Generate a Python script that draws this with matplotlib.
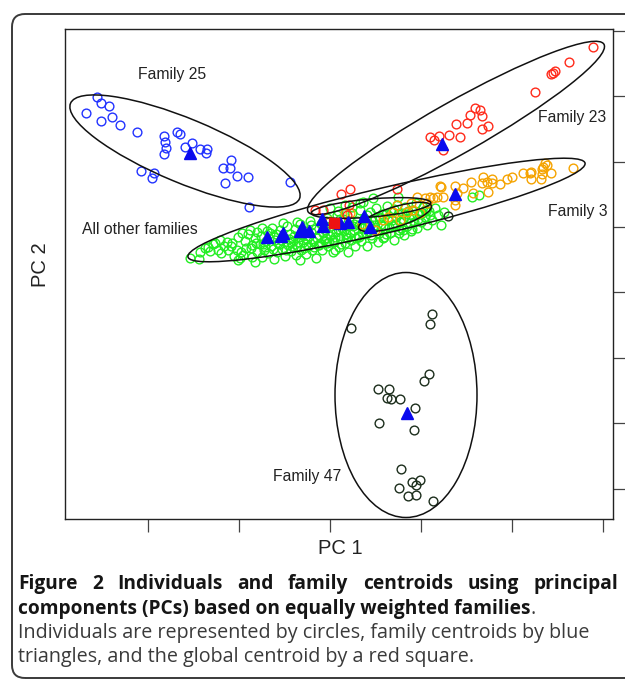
import matplotlib
matplotlib.use('Agg')
import matplotlib.pyplot as plt
from matplotlib.patches import Ellipse, FancyBboxPatch
from matplotlib.ticker import MultipleLocator
from matplotlib.transforms import IdentityTransform

#
# PC scores
#
fam25_pc1 = [-23.3, -22.9, -22.1, -24.4, -21.8, -22.9, -21.0, -19.3, -15.3, -15.0,
             -16.6, -16.5, -16.4, -16.6, -13.8, -14.5, -13.0, -12.3, -12.4, -9.9,
             -10.7, -10.0, -9.3, -8.2, -10.5, -18.9, -17.6, -17.8, -4.0, -8.1]
fam25_pc2 = [13.0, 12.4, 12.1, 11.4, 11.0, 10.6, 10.2, 9.5, 9.5, 9.3,
             9.1, 8.5, 7.9, 7.3, 8.4, 8.0, 7.8, 7.8, 7.4, 6.7,
             5.9, 5.9, 5.1, 5.0, 4.4, 5.6, 5.4, 4.9, 4.5, 2.0]

fam23_pc1 = [26.3, 23.9, 22.5, 22.3, 22.1, 20.5, 14.5, 15.0, 14.0, 15.2,
             13.7, 12.6, 15.8, 15.2, 11.9, 10.0, 10.9, 10.4, 13.0, 11.3,
             2.0, 1.1, 6.7, 1.9, -0.7, -1.5, 1.7]
fam23_pc2 = [18.0, 16.5, 15.6, 15.4, 15.3, 13.5, 11.9, 11.7, 11.2, 11.1,
             10.4, 10.3, 10.1, 9.8, 9.2, 9.0, 9.1, 8.7, 9.0, 7.7,
             3.8, 3.3, 3.8, 2.2, 1.7, 1.7, 1.2]

fam3_pc1 = [24.3, 21.5, 21.7, 21.3, 21.2, 22.1, 21.2, 20.0, 19.3, 20.1,
            18.2, 17.7, 17.0, 16.2, 16.2, 15.7, 15.3, 15.2, 15.8, 14.1,
            14.3, 12.5, 12.7, 13.3, 12.5, 12.5, 11.3, 11.1, 10.7, 10.3,
            10.0, 9.5, 8.7, 9.7, 8.1, 8.3, 9.0, 7.7, 6.7, 6.3,
            5.8, 5.3, 7.0, 2.0, 20.1, 21.1, 11.0, 0.0, 1.5, 3.2, 4.5]
fam3_pc2 = [5.9, 6.4, 6.2, 6.0, 5.8, 5.4, 5.3, 5.4, 5.4, 4.8,
            5.0, 4.8, 4.3, 4.8, 4.4, 4.5, 5.0, 4.4, 3.5, 4.5,
            3.4, 4.1, 3.4, 3.9, 2.7, 2.2, 3.0, 4.0, 3.0, 2.9,
            3.0, 2.9, 3.0, 2.4, 2.4, 1.7, 1.4, 1.5, 2.2, 1.5,
            1.0, 0.7, 0.7, 1.4, 5.5, 4.8, 4.1, 0.6, 1.4, 0.3, -0.3]

fam47_pc1 = [10.2, 10.0, 2.1, 9.9, 9.4, 4.8, 5.9, 5.7, 6.1, 7.0,
             8.5, 4.9, 8.4, 7.1, 8.2, 9.0, 8.6, 6.9, 7.8, 8.6, 10.3, 11.8]
fam47_pc2 = [-8.7, -9.7, -10.1, -14.7, -15.4, -16.2, -16.2, -17.1, -17.2, -17.2,
             -18.1, -19.6, -20.3, -24.2, -25.5, -25.3, -25.8, -26.1, -26.9, -26.8, -27.4, 1.1]

other_pc1 = [-13.1, -13.0, -12.5, -12.0, -11.7, -11.2, -11.0, -10.6, -10.3, -10.2,
             -9.8, -9.6, -9.3, -9.2, -9.2, -8.8, -8.7, -8.5, -8.4, -8.0,
             -7.8, -7.8, -7.5, -7.3, -7.3, -7.0, -6.8, -6.8, -6.6, -6.4,
             -6.2, -6.0, -5.9, -5.8, -5.6, -5.5, -5.3, -5.1, -5.0, -4.8,
             -4.6, -4.5, -4.3, -4.2, -4.0, -3.9, -3.7, -3.5, -3.4, -3.3,
             -3.1, -3.0, -2.9, -2.7, -2.5, -2.4, -2.2, -2.1, -2.0, -1.8,
             -1.7, -1.5, -1.4, -1.2, -1.1, -0.9, -0.8, -0.6, -0.5, -0.3,
             -0.2, 0.0, 0.1, 0.3, 0.4, 0.6, 0.7, 0.9, 1.0, 1.2,
             1.3, 1.5, 1.6, 1.8, 1.9, 2.1, 2.2, 2.4, 2.5, 2.7,
             2.8, 3.0, 3.1, 3.3, 3.4, 3.6, 3.7, 3.9, 4.0, 4.2,
             4.3, 4.5, 4.6, 4.8, 4.9, 5.1, 5.2, 5.4, 5.5, 5.7,
             5.8, 6.0, 6.1, 6.3, 6.4, 6.6, 6.7, 6.9, 7.0, 7.2,
             7.4, 7.5, 7.7, 7.9, 8.1, 8.2, 8.4, 8.6, 8.7, 8.9,
             9.1, 9.3, 9.5, 9.7, 9.9, 10.2, 10.5, 10.8, 11.1, 11.4,
             -7.4, -6.9, -6.5, -6.1, -5.7, -5.4, -4.9, -4.4, -4.1, -3.8,
             -3.6, -3.2, -2.8, -2.6, -2.3, -1.9, -1.6, -1.3, -1.0, -0.7,
             -0.4, -0.1, 0.2, 0.5, 0.8, 1.1, 1.4, 1.7, 2.0, 2.3,
             2.6, 2.9, 3.2, 3.5, 3.8, 4.1, 4.4, 4.7, 5.0, 5.3,
             5.6, 5.9, 6.2, 6.5, 6.8, 7.1, 7.3, 7.6, 8.0, 8.3,
             8.8, 9.2, 9.6, 10.0,
             0.0, 1.5, 3.0, 2.2, 0.8, 14.2, 14.9, 6.8, 3.3, 4.3,
             -7.5, -9.0, 5.3, 7.3, 9.5, -11.5, -14.0, -3.0, -0.3, 0.5,
             -12.2, -10.9, -9.9, -8.9, -7.9, -6.7, -5.2, -3.9, -2.4, -1.1,
             0.3, 1.6, 2.9, 4.1, 5.6, 6.9, 8.2, -8.2, -6.3, -4.7,
             -3.3, -1.9, -0.4, 1.0, 2.4, 3.7, 5.0, 6.4, 7.8, -5.6]
other_pc2 = [-3.2, -2.5, -2.1, -2.4, -1.7, -2.3, -1.3, -1.9, -1.5, -2.3,
             -1.6, -2.9, -2.3, -1.0, -3.3, -0.6, -2.8, -1.4, -2.1, -0.3,
             -3.0, -1.8, -1.1, -0.5, -2.5, -1.7, -0.1, -3.0, -2.3, -1.4,
             -2.6, -0.6, -1.9, -0.1, -3.2, -1.3, -2.5, -1.7, -0.3, -2.2,
             -1.1, -2.9, 0.1, -1.8, -0.7, -2.4, -1.4, -0.2, -2.8, -1.9,
             -1.0, 0.3, -2.3, -1.5, -0.4, -2.7, -1.9, -0.9, 0.6, -2.3,
             -1.4, -0.2, -3.1, -1.8, -0.8, 0.3, -2.3, -1.3, -0.3, 0.9,
             -1.9, -0.9, 0.1, -2.5, -1.5, -0.5, 1.2, -2.0, -1.1, -0.1,
             0.8, -1.6, -0.7, -2.5, 0.2, -1.3, 1.4, -0.3, -1.9, 0.6,
             -0.9, 1.7, -1.4, -0.1, 0.9, -0.7, -1.9, 0.3, 1.5, -1.1,
             -0.2, 0.8, 1.9, -1.5, -0.6, 0.3, 1.3, -1.0, -0.1, 2.1,
             0.7, -0.6, 1.5, 0.1, -1.3, 1.0, 2.2, -0.3, 0.5, 1.4,
             -0.8, 2.0, 0.1, 0.9, -0.4, 1.7, 0.5, 2.4, -0.1, 1.3,
             0.5, 2.0, 1.0, 0.2, 1.6, 0.7, 1.9, 1.2, 0.2, 1.5,
             -1.6, -0.9, -2.0, -1.1, -2.2, -0.7, -1.3, -2.3, -1.2, -1.9,
             -0.9, -1.5, -0.8, -2.1, -1.2, -0.5, -2.0, -1.1, -1.6, -0.6,
             -1.1, -1.5, -0.5, -1.0, -0.2, -1.7, -0.4, -1.1, -0.6, 0.1,
             -1.1, 0.2, -0.6, 0.1, -0.4, 0.7, 0.2, -0.3, 0.9, 0.1,
             1.3, 0.0, 0.7, 0.3, 1.3, -0.1, 0.8, 1.3, 0.4, 1.1,
             0.8, 1.4, 1.6, 1.2,
             1.9, 2.2, 2.4, 2.0, 1.6, 3.0, 3.2, 3.0, 2.5, 2.9,
             -3.5, -3.1, -1.1, -0.3, 1.7, -1.6, -3.1, -3.3, -1.6, -2.3,
             -2.0, -2.6, -1.9, -2.5, -2.1, -1.7, -1.6, -1.5, -1.7, -1.8,
             -1.3, -1.0, -1.0, -0.8, -0.7, -0.6, -0.2, -0.7, -0.4, 0.4,
             0.5, 0.2, 0.6, 0.8, 0.3, 1.2, 1.0, 1.8, 1.6, -1.0]

# family centroids and the global centroid
cent_pc1 = [-14.0, 11.2, 12.5, 7.7, -6.3, -4.9, -4.7, -3.0, -2.8, -2.1,
            -0.7, -0.8, 1.0, 1.8, 3.4, 4.0]
cent_pc2 = [7.4, 8.3, 3.3, -18.6, -1.0, -0.9, -0.6, -0.4, 0.0, -0.4,
            0.1, 0.8, 0.4, 0.5, 1.1, 0.0]
glob_pc1 = [0.4]
glob_pc2 = [0.4]

# ellipses: centre, full width, full height, angle (deg)
ell_cx = [-14.5, 12.6, 5.65, 4.1, 6.5, 7.6]
ell_cy = [7.6, 9.9, 1.7, 1.9, 1.0, -16.8]
ell_w = [24.8, 34.0, 40.8, 12.0, 7.6, 14.2]
ell_h = [6.4, 5.2, 4.5, 1.8, 2.0, 24.5]
ell_ang = [-22.6, 29.5, 13.3, 5.0, 17.0, 0.0]

labels = ['Family 25', 'Family 23', 'Family 3', 'All other families', 'Family 47']
label_x = [-15.8, 20.8, 21.8, -24.8, -5.7]
label_y = [15.3, 11.0, 1.6, -0.2, -24.9]
label_ha = ['center', 'left', 'left', 'left', 'left']

W, H = 625, 681
fig = plt.figure(figsize=(W / 100, H / 100), dpi=100)
ax = fig.add_axes([65 / W, 1 - 519 / H, 548 / W, 490 / H])

circ = dict(ls='none', marker='o', mfc='none', ms=6.3, mew=1.0)
ax.plot(other_pc1, other_pc2, mec='#22ee22', **circ)
ax.plot(fam3_pc1, fam3_pc2, mec='#f5a300', **circ)
ax.plot(fam23_pc1, fam23_pc2, mec='#ff2a1a', **circ)
ax.plot(fam25_pc1, fam25_pc2, mec='#2233ff', **circ)
ax.plot(fam47_pc1, fam47_pc2, mec='#1c2e1c', **circ)

for cx, cy, w, h, a in zip(ell_cx, ell_cy, ell_w, ell_h, ell_ang):
    ax.add_patch(Ellipse((cx, cy), w, h, angle=a, fill=False,
                         ec='#111111', lw=1.1, zorder=3))

ax.plot(cent_pc1, cent_pc2, ls='none', marker='^', color='#0a0aee', ms=8, zorder=4)
ax.plot(glob_pc1, glob_pc2, ls='none', marker='s', color='#ee1111', ms=6.5, zorder=4)

for t, x, y, ha in zip(labels, label_x, label_y, label_ha):
    ax.text(x, y, t, ha=ha, va='center', fontsize=11.3,
            family='Liberation Sans', color='#222222')

ax.set_xlim(-26.5, 28.3)
ax.set_ylim(-29.2, 19.8)
ax.xaxis.set_major_locator(MultipleLocator(9.1))
ax.yaxis.set_major_locator(MultipleLocator(6.54))
ax.yaxis.tick_right()
ax.tick_params(direction='out', length=9, width=0.9, color='#444444',
               labelbottom=False, labelright=False, labelleft=False,
               left=False, top=False)
for sp in ax.spines.values():
    sp.set_linewidth(1.0)
    sp.set_color('#222222')

fig.text(340 / W, 1 - 549 / H, 'PC 1', ha='center', va='center',
         fontsize=14.5, family='Liberation Sans', color='#222222')
fig.text(40 / W, 1 - 265 / H, 'PC 2', ha='center', va='center', rotation=90,
         fontsize=14.5, family='Liberation Sans', color='#222222')

# outer rounded frame (pixel coords)
fig.add_artist(FancyBboxPatch((12, 3), 700, H - 14 - 3,
                              boxstyle='round,pad=0,rounding_size=13',
                              transform=IdentityTransform(), fill=False,
                              ec='#3a3a3a', lw=1.4))

# caption
r = fig.canvas.get_renderer()
cap_font = 'Open Sans'
ident = IdentityTransform()


def fit_size(txt, weight, target):
    t = fig.text(0, 0, txt, fontsize=10, family=cap_font, weight=weight,
                 transform=ident)
    w = t.get_window_extent(r).width
    t.remove()
    return 10 * target / w


bold_size = fit_size('components (PCs) based on equally weighted families', 'bold', 512)
reg_size = 0.5 * (fit_size('Individuals are represented by circles, family centroids by blue',
                           'normal', 542) +
                  fit_size('triangles, and the global centroid by a red square.',
                           'normal', 480))

# line 1, justified from x=18 to x=618
words = 'Figure 2 Individuals and family centroids using principal'.split()
items = [fig.text(0, H - 589, w, fontsize=bold_size, family=cap_font,
                  weight='bold', color='#151515', transform=ident) for w in words]
widths = [t.get_window_extent(r).width for t in items]
gap = (600 - sum(widths)) / (len(words) - 1)
x = 18
for t, w in zip(items, widths):
    t.set_x(x)
    x += w + gap

t2 = fig.text(18, H - 614, 'components (PCs) based on equally weighted families',
              fontsize=bold_size, family=cap_font, weight='bold', color='#151515',
              transform=ident)
x2 = 18 + t2.get_window_extent(r).width
fig.text(x2, H - 614, '.', fontsize=reg_size, family=cap_font, color='#3a3a3a',
         transform=ident)
fig.text(18, H - 638, 'Individuals are represented by circles, family centroids by blue',
         fontsize=reg_size, family=cap_font, color='#3a3a3a', transform=ident)
fig.text(18, H - 662, 'triangles, and the global centroid by a red square.',
         fontsize=reg_size, family=cap_font, color='#3a3a3a', transform=ident)

fig.savefig('out.png', dpi=100)
